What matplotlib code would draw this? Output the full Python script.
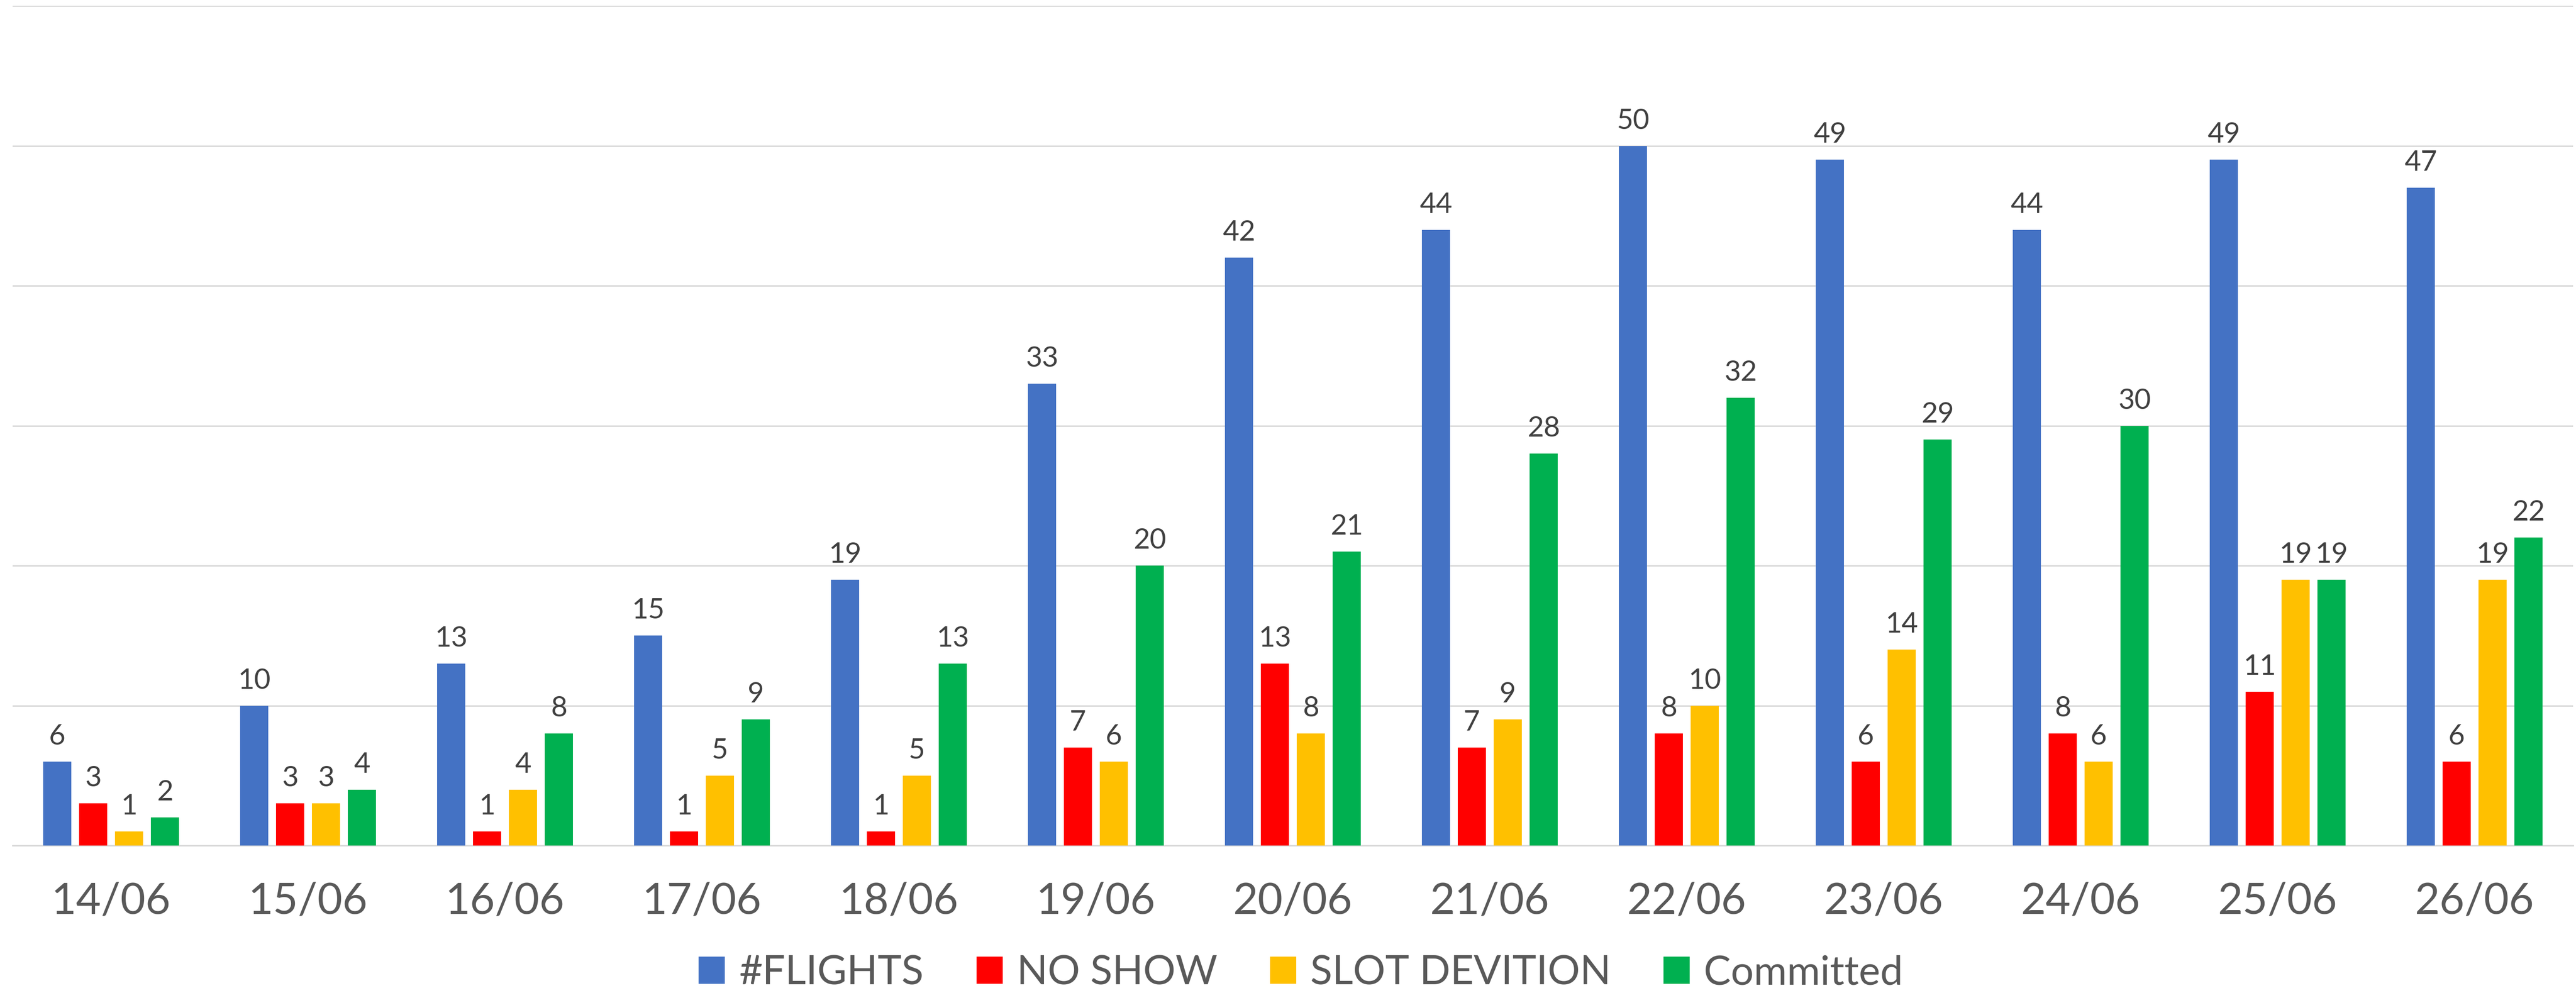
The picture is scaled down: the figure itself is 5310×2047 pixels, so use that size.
import matplotlib
matplotlib.use("Agg")
import matplotlib.pyplot as plt
import numpy as np

dates = ["14/06", "15/06", "16/06", "17/06", "18/06", "19/06", "20/06",
         "21/06", "22/06", "23/06", "24/06", "25/06", "26/06"]
flights = [6, 10, 13, 15, 19, 33, 42, 44, 50, 49, 44, 49, 47]
no_show = [3, 3, 1, 1, 1, 7, 13, 7, 8, 6, 8, 11, 6]
slot_devition = [1, 3, 4, 5, 5, 6, 8, 9, 10, 14, 6, 19, 19]
committed = [2, 4, 8, 9, 13, 20, 21, 28, 32, 29, 30, 19, 22]

series_names = ["#FLIGHTS", "NO SHOW", "SLOT DEVITION", "Committed"]
series_values = [flights, no_show, slot_devition, committed]
colors = ["#4472C4", "#FF0000", "#FFC000", "#00B050"]

plt.rcParams['font.family'] = ['Lato', 'DejaVu Sans']

fig = plt.figure(figsize=(26.55, 10.235), dpi=200)
ax = fig.add_axes([0.0049, 0.1485, 0.994, 0.8456])

x = np.arange(len(dates))
pitch = 0.182
width = 0.143
for i, (name, vals, c) in enumerate(zip(series_names, series_values, colors)):
    bars = ax.bar(x + (i - 1.5) * pitch, vals, width, color=c, label=name, zorder=3)
    ax.bar_label(bars, padding=9, fontsize=21, color="#404040")

ax.set_xlim(-0.5, len(dates) - 0.5)
ax.set_ylim(0, 60)
ax.set_yticks(np.arange(0, 61, 10))
ax.yaxis.grid(True, color="#D9D9D9", linewidth=1.1, zorder=0)
ax.tick_params(axis='y', left=False, labelleft=False)
ax.set_xticks(x)
ax.set_xticklabels(dates, fontsize=32, color="#595959")
ax.tick_params(axis='x', length=0, pad=27)
for s in ["top", "right", "left"]:
    ax.spines[s].set_visible(False)
ax.spines["bottom"].set_color("#D9D9D9")
ax.spines["bottom"].set_linewidth(1.1)

leg = fig.legend(loc="center", bbox_to_anchor=(0.505, 0.02), ncol=4, frameon=False,
                 fontsize=30, handlelength=0.65, handleheight=0.65,
                 handletextpad=0.35, columnspacing=1.3, labelcolor="#595959")

fig.savefig("out.png", dpi=200)
